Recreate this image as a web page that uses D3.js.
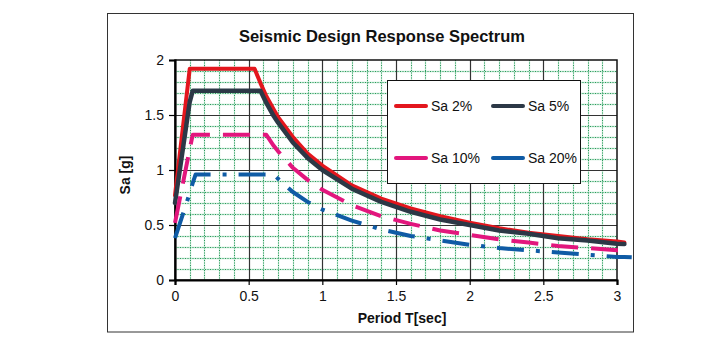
<!DOCTYPE html>
<html>
<head>
<meta charset="utf-8">
<script src="https://cdn.jsdelivr.net/npm/d3@7"></script>
<style>
  html, body { margin: 0; padding: 0; background: #fff; }
  svg { display: block; font-family: "Liberation Sans", Arial, sans-serif; }
</style>
</head>
<body>
<svg id="chart" width="708" height="340"></svg>
<script>
// ---------- data ----------
const periods = [0, 0.1, 0.12, 0.14, 0.2, 0.3, 0.4, 0.5, 0.54, 0.58, 0.62, 0.67, 0.7, 0.8, 0.9, 1.0,
                 1.2, 1.4, 1.6, 1.8, 2.0, 2.2, 2.4, 2.6, 2.8, 3.0, 3.05, 3.1];
const sa2  = [0.77, 1.92, 1.92, 1.92, 1.92, 1.92, 1.92, 1.92, 1.92, 1.79, 1.67, 1.55, 1.48, 1.30, 1.15, 1.04,
              0.86, 0.74, 0.65, 0.58, 0.52, 0.47, 0.43, 0.40, 0.37, 0.35, 0.34, null];
const sa5  = [0.70, 1.62, 1.72, 1.72, 1.72, 1.72, 1.72, 1.72, 1.72, 1.72, 1.61, 1.49, 1.43, 1.25, 1.11, 1.00,
              0.83, 0.71, 0.62, 0.55, 0.50, 0.45, 0.42, 0.38, 0.36, 0.33, 0.327, null];
const sa10 = [0.52, 1.19, 1.32, 1.32, 1.32, 1.32, 1.32, 1.32, 1.32, 1.32, 1.32, 1.22, 1.17, 1.02, 0.91, 0.82,
              0.68, 0.58, 0.51, 0.45, 0.41, 0.37, 0.34, 0.31, 0.29, 0.27, 0.27, null];
const sa20 = [0.38, 0.79, 0.88, 0.96, 0.96, 0.96, 0.96, 0.96, 0.96, 0.96, 0.96, 0.96, 0.92, 0.80, 0.71, 0.64,
              0.54, 0.46, 0.40, 0.36, 0.32, 0.29, 0.27, 0.25, 0.23, 0.21, 0.21, 0.207];
const seriesNames = ["Sa 2%", "Sa 5%", "Sa 10%", "Sa 20%"];
const xTicks = [0, 0.5, 1, 1.5, 2, 2.5, 3];
const yTicks = [0, 0.5, 1, 1.5, 2];
const titleText = "Seismic Design Response Spectrum";
const xLabel = "Period T[sec]";
const yLabel = "Sa [g]";

// ---------- styles ----------
const styles = [
  { color: "#e3161d", width: 4,   dash: null },
  { color: "#2c3846", width: 4.5, dash: null },
  { color: "#e2167d", width: 4,   dash: "27,13" },
  { color: "#0f5ba5", width: 4,   dash: "27,12,4,12" }
];
const seriesValues = [sa2, sa5, sa10, sa20];

const svg = d3.select("#chart");
const L = 175, R = 617, T = 60, B = 280;

const x = d3.scaleLinear().domain([0, 3]).range([L, R]);
const y = d3.scaleLinear().domain([0, 2]).range([B, T]);

// outer frame
svg.append("rect").attr("x", 107.5).attr("y", 13.5).attr("width", 526).attr("height", 318.5)
  .attr("fill", "#fff").attr("stroke", "#333").attr("stroke-width", 1);

// minor grid
const minorX = d3.range(1, 30).map(i => i / 10).filter(v => Math.abs(v * 2 - Math.round(v * 2)) > 1e-6);
const minorY = d3.range(1, 20).map(i => i / 10).filter(v => Math.abs(v * 2 - Math.round(v * 2)) > 1e-6);
const grid = svg.append("g");
[["#bfe6d0", 1.3, null], ["#2a9a5c", 1, "1,1.5"]].forEach(([c, w, d]) => {
  grid.selectAll(null).data(minorX).enter().append("line")
    .attr("x1", v => Math.round(x(v)) + 0.5).attr("x2", v => Math.round(x(v)) + 0.5)
    .attr("y1", T).attr("y2", B)
    .attr("stroke", c).attr("stroke-width", w).attr("stroke-dasharray", d);
  grid.selectAll(null).data(minorY).enter().append("line")
    .attr("y1", v => Math.round(y(v)) + 0.5).attr("y2", v => Math.round(y(v)) + 0.5)
    .attr("x1", L).attr("x2", R)
    .attr("stroke", c).attr("stroke-width", w).attr("stroke-dasharray", d);
});
// major grid
grid.selectAll(null).data(xTicks.slice(1, -1)).enter().append("line")
  .attr("x1", v => Math.round(x(v)) + 0.5).attr("x2", v => Math.round(x(v)) + 0.5)
  .attr("y1", T).attr("y2", B).attr("stroke", "#333").attr("stroke-width", 1.2);
grid.selectAll(null).data(yTicks.slice(1, -1)).enter().append("line")
  .attr("y1", v => Math.round(y(v)) + 0.5).attr("y2", v => Math.round(y(v)) + 0.5)
  .attr("x1", L).attr("x2", R).attr("stroke", "#333").attr("stroke-width", 1.2);

// plot border
svg.append("rect").attr("x", L).attr("y", T).attr("width", R - L).attr("height", B - T)
  .attr("fill", "none").attr("stroke", "#111").attr("stroke-width", 1.5);

// axes
const xAxis = svg.append("g").attr("transform", `translate(0,${B})`)
  .call(d3.axisBottom(x).tickValues(xTicks).tickSize(5).tickPadding(6).tickFormat(d3.format("")));
const yAxis = svg.append("g").attr("transform", `translate(${L},0)`)
  .call(d3.axisLeft(y).tickValues(yTicks).tickSize(6).tickPadding(5).tickFormat(d3.format("")));
[xAxis, yAxis].forEach(a => {
  a.select(".domain").attr("stroke", "#000").attr("stroke-width", 2.2);
  a.selectAll(".tick line").attr("stroke", "#000").attr("stroke-width", 1.2);
  a.selectAll(".tick text").attr("font-size", 14).attr("fill", "#111")
    .attr("font-family", "Liberation Sans, Arial, sans-serif");
});

// lines
seriesValues.forEach((vals, i) => {
  const pts = periods.map((t, j) => [t, vals[j]]);
  const line = d3.line().defined(d => d[1] != null).x(d => x(d[0])).y(d => y(d[1]));
  const s = styles[i];
  svg.append("path").datum(pts)
    .attr("d", line).attr("fill", "none")
    .attr("stroke", s.color).attr("stroke-width", s.width)
    .attr("stroke-linejoin", "round")
    .attr("stroke-linecap", s.dash ? "butt" : "round")
    .attr("stroke-dasharray", s.dash);
});

// legend
const lg = svg.append("g");
lg.append("rect").attr("x", 387.5).attr("y", 80.5).attr("width", 193).attr("height", 103)
  .attr("fill", "#fff").attr("stroke", "#111").attr("stroke-width", 1);
const legendPos = [[396, 106], [493, 106], [396, 158], [493, 158]];
seriesNames.forEach((n, i) => {
  const [lx, ly] = legendPos[i];
  lg.append("line").attr("x1", lx).attr("x2", lx + 30).attr("y1", ly).attr("y2", ly)
    .attr("stroke", styles[i].color).attr("stroke-width", 4).attr("stroke-linecap", "round");
  lg.append("text").attr("x", lx + 35).attr("y", ly + 5).attr("font-size", 14).attr("fill", "#111").text(n);
});

// titles
svg.append("text").attr("x", 382).attr("y", 42).attr("text-anchor", "middle")
  .attr("font-size", 16.5).attr("font-weight", "bold").attr("fill", "#111").text(titleText);
svg.append("text").attr("x", 402).attr("y", 323).attr("text-anchor", "middle")
  .attr("font-size", 14).attr("font-weight", "bold").attr("fill", "#111").text(xLabel);
svg.append("text").attr("transform", "translate(130,175) rotate(-90)").attr("text-anchor", "middle")
  .attr("font-size", 14).attr("font-weight", "bold").attr("fill", "#111").text(yLabel);
</script>
</body>
</html>
